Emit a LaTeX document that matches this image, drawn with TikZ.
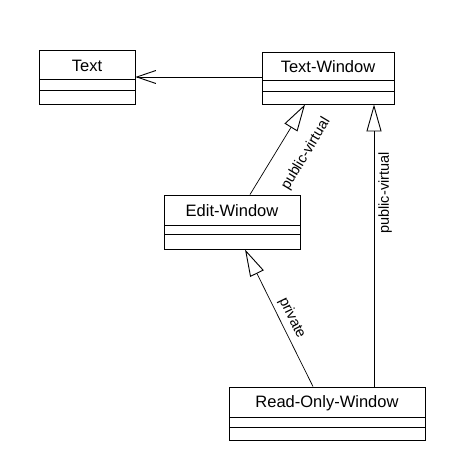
\documentclass[tikz,border=0pt]{standalone}
\usepackage{fontspec}
\setmainfont{Liberation Sans}
\usetikzlibrary{arrows.meta}
\begin{document}
\begin{tikzpicture}[x=1pt,y=-1pt,
  cls/.style={draw,line width=0.9pt,inner sep=0pt},
  title/.style={inner sep=0pt,font=\fontsize{16.5}{18}\selectfont},
  lbl/.style={inner sep=0pt,font=\fontsize{14.5}{16}\selectfont},
  inh/.style={line width=0.7pt,-{Triangle[open,length=27pt,width=15pt,line width=0.9pt]}},
  assoc/.style={line width=0.9pt,-{Straight Barb[length=19pt,width=13pt,line width=0.9pt]}}]
\useasboundingbox (0,0) rectangle (466,466);
% Text
\node[cls,minimum width=96pt,minimum height=54pt] (t) at (87,77) {};
\node[title] (tt) at (87,66) {Text};
\draw[line width=0.9pt] (39,79) -- (135,79) (39,90) -- (135,90);
% Text-Window
\node[cls,minimum width=132pt,minimum height=52pt] (tw) at (328,78) {};
\node[title] (twt) at (328,67) {Text-Window};
\draw[line width=0.9pt] (262,80) -- (394,80) (262,91) -- (394,91);
% Edit-Window
\node[cls,minimum width=136pt,minimum height=54pt] (ew) at (232,222) {};
\node[title] (ewt) at (232,211) {Edit-Window};
\draw[line width=0.9pt] (164,225) -- (300,225) (164,234) -- (300,234);
% Read-Only-Window
\node[cls,minimum width=196pt,minimum height=53pt] (ro) at (327,413.5) {};
\node[title] (rot) at (327,403) {Read-Only-Window};
\draw[line width=0.9pt] (229,417) -- (425,417) (229,427) -- (425,427);
% connectors
\draw[assoc] (tw.west |- 0,77) -- (t.east |- 0,77);
\draw[inh] ([xshift=18pt]ew.north) -- ([xshift=-23pt]tw.south);
\draw[inh] ([xshift=47pt]ro.north) -- ([xshift=46pt]tw.south);
\draw[inh] ([xshift=-14pt]ro.north) -- ([xshift=13pt]ew.south);
% labels
\node[lbl,rotate=59] (l1) at (306,154) {public-virtual};
\node[lbl,rotate=90] (l2) at (385,193) {public-virtual};
\node[lbl,rotate=-64] (l3) at (292,318) {private};
\end{tikzpicture}
\end{document}
